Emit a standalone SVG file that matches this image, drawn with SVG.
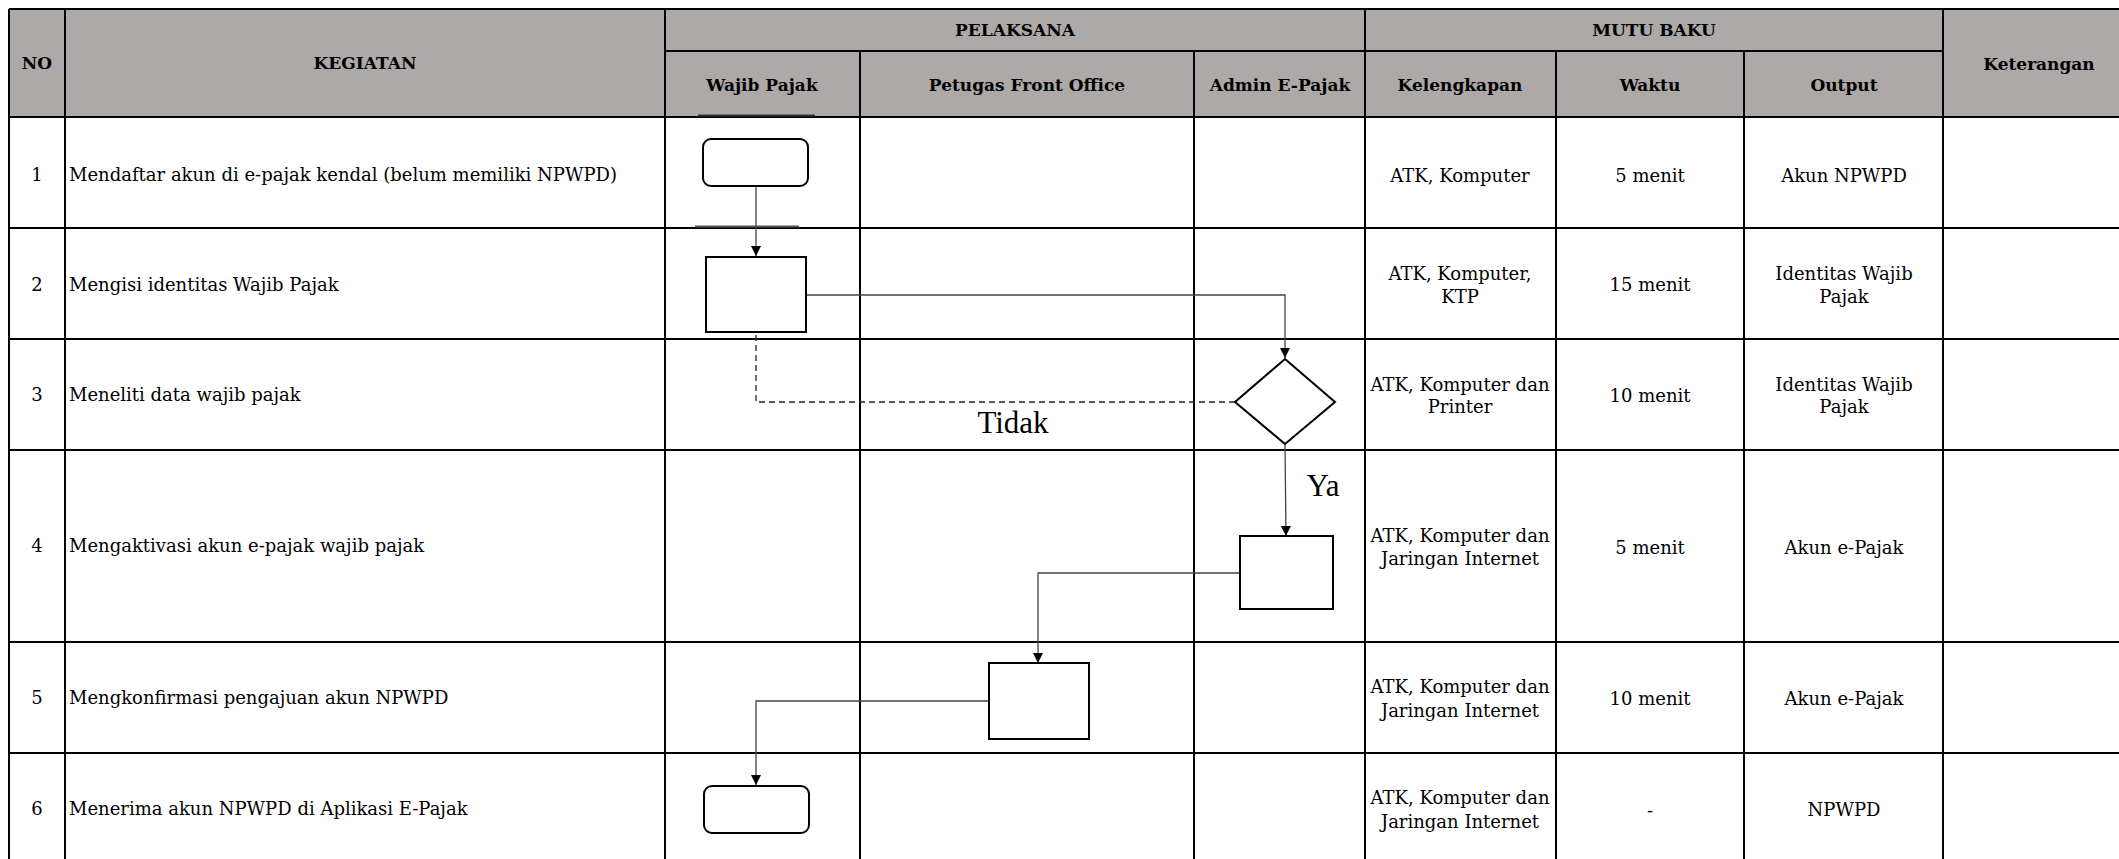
<svg xmlns="http://www.w3.org/2000/svg" width="2119" height="859" viewBox="0 0 2119 859">
<defs>
<style>
.hdr{fill:#ADA9A8}
.grid{stroke:#000;stroke-width:2;fill:none}
.th{font-family:"DejaVu Serif",serif;font-weight:bold;font-size:17px;fill:#000;text-anchor:middle}
.td{font-family:"DejaVu Serif",serif;font-size:18px;fill:#000}
.c{text-anchor:middle}
.shape{fill:#fff;stroke:#000;stroke-width:2}
.conn{fill:none;stroke:#444;stroke-width:1.3}
.dash{fill:none;stroke:#222;stroke-width:1.3;stroke-dasharray:6,4}
.lbl{font-family:"Liberation Serif",serif;font-size:31px;fill:#000}
</style>
<marker id="arr" markerWidth="10" markerHeight="10" refX="10" refY="5" orient="auto" markerUnits="userSpaceOnUse">
<path d="M0,0 L10,5 L0,10 Z" fill="#000"/>
</marker>
</defs>
<rect width="2119" height="859" fill="#fff"/>
<g id="table">
<rect class="hdr" x="9" y="9" width="2150" height="108"/>
<path class="grid" d="M9,9 H2160 M665,51 H1943 M860,51 V117 M1194,51 V117 M1556,51 V117 M1744,51 V117 M9,117 H2160 M9,228 H2160 M9,339 H2160 M9,450 H2160 M9,642 H2160 M9,753 H2160 M9,866 H2160 M9,9 V866 M65,9 V866 M665,9 V866 M1365,9 V866 M1943,9 V866 M860,117 V866 M1194,117 V866 M1556,117 V866 M1744,117 V866"/>
<line x1="698" y1="115.5" x2="815" y2="115.5" stroke="#333" stroke-width="2"/>
<line x1="695" y1="226.5" x2="799" y2="226.5" stroke="#555" stroke-width="2"/>
<text class="th" x="37" y="69">NO</text>
<text class="th" x="365" y="69">KEGIATAN</text>
<text class="th" x="1015" y="36">PELAKSANA</text>
<text class="th" x="1654" y="36">MUTU BAKU</text>
<text class="th" x="2039" y="70">Keterangan</text>
<text class="th" x="762" y="91">Wajib Pajak</text>
<text class="th" x="1027" y="91">Petugas Front Office</text>
<text class="th" x="1280" y="91">Admin E-Pajak</text>
<text class="th" x="1460" y="91">Kelengkapan</text>
<text class="th" x="1650" y="91">Waktu</text>
<text class="th" x="1844" y="91">Output</text>
</g>
<g id="rows">
<text class="td c" x="37" y="181">1</text>
<text class="td" x="69" y="181">Mendaftar akun di e-pajak kendal (belum memiliki NPWPD)</text>
<text class="td c" x="1460" y="182">ATK, Komputer</text>
<text class="td c" x="1650" y="182">5 menit</text>
<text class="td c" x="1844" y="182">Akun NPWPD</text>

<text class="td c" x="37" y="291">2</text>
<text class="td" x="69" y="291">Mengisi identitas Wajib Pajak</text>
<text class="td c" x="1460" y="280">ATK, Komputer,</text>
<text class="td c" x="1460" y="303">KTP</text>
<text class="td c" x="1650" y="291">15 menit</text>
<text class="td c" x="1844" y="280">Identitas Wajib</text>
<text class="td c" x="1844" y="303">Pajak</text>

<text class="td c" x="37" y="401">3</text>
<text class="td" x="69" y="401">Meneliti data wajib pajak</text>
<text class="td c" x="1460" y="391">ATK, Komputer dan</text>
<text class="td c" x="1460" y="413">Printer</text>
<text class="td c" x="1650" y="402">10 menit</text>
<text class="td c" x="1844" y="391">Identitas Wajib</text>
<text class="td c" x="1844" y="413">Pajak</text>

<text class="td c" x="37" y="552">4</text>
<text class="td" x="69" y="552">Mengaktivasi akun e-pajak wajib pajak</text>
<text class="td c" x="1460" y="542">ATK, Komputer dan</text>
<text class="td c" x="1460" y="565">Jaringan Internet</text>
<text class="td c" x="1650" y="554">5 menit</text>
<text class="td c" x="1844" y="554">Akun e-Pajak</text>

<text class="td c" x="37" y="704">5</text>
<text class="td" x="69" y="704">Mengkonfirmasi pengajuan akun NPWPD</text>
<text class="td c" x="1460" y="693">ATK, Komputer dan</text>
<text class="td c" x="1460" y="717">Jaringan Internet</text>
<text class="td c" x="1650" y="705">10 menit</text>
<text class="td c" x="1844" y="705">Akun e-Pajak</text>

<text class="td c" x="37" y="815">6</text>
<text class="td" x="69" y="815">Menerima akun NPWPD di Aplikasi E-Pajak</text>
<text class="td c" x="1460" y="804">ATK, Komputer dan</text>
<text class="td c" x="1460" y="828">Jaringan Internet</text>
<text class="td c" x="1650" y="817">-</text>
<text class="td c" x="1844" y="816">NPWPD</text>
</g>
<g id="connectors">
<path class="conn" d="M756,186 V256" marker-end="url(#arr)"/>
<path class="conn" d="M806,295 H1285 V358" marker-end="url(#arr)"/>
<path class="dash" d="M1235,402 H756 V334"/>
<path class="conn" d="M1285,444 L1286,536" marker-end="url(#arr)"/>
<path class="conn" d="M1240,573 H1038 V663" marker-end="url(#arr)"/>
<path class="conn" d="M989,701 H756 V785" marker-end="url(#arr)"/>
<text class="lbl" x="1013" y="433" text-anchor="middle" font-size="33">Tidak</text>
<text class="lbl" x="1323" y="496" text-anchor="middle">Ya</text>
</g>
<g id="n1"><rect class="shape" x="703" y="139" width="105" height="47" rx="8"/></g>
<g id="n2"><rect class="shape" x="706" y="257" width="100" height="75"/></g>
<g id="n3"><polygon class="shape" points="1285,359 1335,402 1285,444 1235,402"/></g>
<g id="n4"><rect class="shape" x="1240" y="536" width="93" height="73"/></g>
<g id="n5"><rect class="shape" x="989" y="663" width="100" height="76"/></g>
<g id="n6"><rect class="shape" x="704" y="786" width="105" height="47" rx="8"/></g>
</svg>
